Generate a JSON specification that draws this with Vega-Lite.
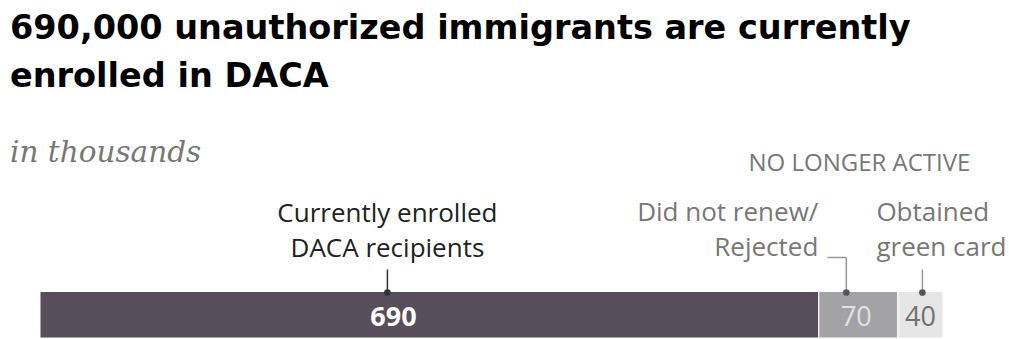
{
  "$schema": "https://vega.github.io/schema/vega-lite/v6.json",
  "width": 1009,
  "height": 339,
  "autosize": {"type": "fit", "contains": "padding"},
  "padding": {"top": 12, "left": 0, "right": 0, "bottom": 0},
  "background": "white",
  "config": {"view": {"stroke": null}, "font": "Open Sans"},
  "title": {
    "text": ["690,000 unauthorized immigrants are currently", "enrolled in DACA"],
    "subtitle": "in thousands",
    "anchor": "start",
    "dx": 10,
    "font": "DejaVu Sans",
    "fontSize": 33.5,
    "fontWeight": "bold",
    "color": "#000000",
    "lineHeight": 48,
    "subtitleFont": "DejaVu Serif",
    "subtitleFontStyle": "italic",
    "subtitleFontSize": 29.5,
    "subtitleColor": "#777777",
    "subtitlePadding": 44,
    "offset": -17
  },
  "data": {
    "values": [
      {"category": "Currently enrolled DACA recipients", "label": "Currently enrolled\nDACA recipients", "value": 690, "order": 1},
      {"category": "Did not renew/Rejected", "label": "Did not renew/\nRejected", "value": 70, "order": 2},
      {"category": "Obtained green card", "label": "Obtained\ngreen card", "value": 40, "order": 3}
    ]
  },
  "transform": [
    {"stack": "value", "groupby": [], "sort": [{"field": "order", "order": "ascending"}], "as": ["x0", "x1"]},
    {"calculate": "(datum.x0 + datum.x1) / 2", "as": "mid"}
  ],
  "encoding": {
    "x": {"field": "mid", "type": "quantitative", "scale": {"domain": [-35.44, 858.5], "nice": false, "zero": false}, "axis": null},
    "y": {"datum": 47, "type": "quantitative", "scale": {"domain": [0, 189], "nice": false, "zero": false}, "axis": null}
  },
  "layer": [
    {
      "mark": {"type": "bar", "stroke": "white", "strokeWidth": 1},
      "encoding": {
        "x": {"field": "x0", "type": "quantitative"},
        "x2": {"field": "x1"},
        "y": {"datum": 0, "type": "quantitative"},
        "y2": {"datum": 47},
        "color": {"field": "category", "type": "nominal", "legend": null,
          "scale": {"domain": ["Currently enrolled DACA recipients", "Did not renew/Rejected", "Obtained green card"], "range": ["#574d5b", "#a3a2a5", "#e6e6e6"]}}
      }
    },
    {
      "transform": [{"filter": "datum.order == 1"}],
      "layer": [
        {"mark": {"type": "text", "fontSize": 27, "fontWeight": "bold", "color": "white", "baseline": "alphabetic", "dx": -36, "dy": 35},
         "encoding": {"text": {"field": "value"}}},
        {"mark": {"type": "rule", "color": "#333333", "strokeWidth": 1.5, "xOffset": -42, "yOffset": 1, "y2Offset": -22},
         "encoding": {"y2": {"datum": 47}}},
        {"mark": {"type": "point", "filled": true, "size": 45, "opacity": 1, "color": "#333333", "xOffset": -42, "yOffset": 1},
         "encoding": {}},
        {"mark": {"type": "text", "fontSize": 26, "color": "#222222", "align": "center", "baseline": "alphabetic", "lineBreak": "\n", "lineHeight": 35, "dx": -42, "dy": -69},
         "encoding": {"text": {"field": "label"}}}
      ]
    },
    {
      "transform": [{"filter": "datum.order == 2"}],
      "layer": [
        {"mark": {"type": "text", "fontSize": 27, "color": "#e2e2e2", "baseline": "alphabetic", "dx": -2, "dy": 35},
         "encoding": {"text": {"field": "value"}}},
        {"mark": {"type": "rule", "color": "#999999", "strokeWidth": 1.5, "xOffset": -12, "yOffset": 1, "y2Offset": -34},
         "encoding": {"y2": {"datum": 47}}},
        {"mark": {"type": "rule", "color": "#999999", "strokeWidth": 1.5, "xOffset": -31, "x2Offset": -12, "yOffset": -34},
         "encoding": {"x2": {"field": "mid"}}},
        {"mark": {"type": "point", "filled": true, "size": 45, "opacity": 1, "color": "#555555", "xOffset": -12, "yOffset": 1},
         "encoding": {}},
        {"mark": {"type": "text", "fontSize": 26, "color": "#777777", "align": "right", "baseline": "alphabetic", "lineBreak": "\n", "lineHeight": 35, "dx": -40, "dy": -70},
         "encoding": {"text": {"field": "label"}}}
      ]
    },
    {
      "transform": [{"filter": "datum.order == 3"}],
      "layer": [
        {"mark": {"type": "text", "fontSize": 27, "color": "#707070", "baseline": "alphabetic", "dx": 0, "dy": 35},
         "encoding": {"text": {"field": "value"}}},
        {"mark": {"type": "rule", "color": "#999999", "strokeWidth": 1.5, "xOffset": 2, "yOffset": 1, "y2Offset": -22},
         "encoding": {"y2": {"datum": 47}}},
        {"mark": {"type": "point", "filled": true, "size": 45, "opacity": 1, "color": "#555555", "xOffset": 2, "yOffset": 1},
         "encoding": {}},
        {"mark": {"type": "text", "fontSize": 26, "color": "#777777", "align": "left", "baseline": "alphabetic", "lineBreak": "\n", "lineHeight": 35, "dx": -44, "dy": -70},
         "encoding": {"text": {"field": "label"}}},
        {"mark": {"type": "text", "fontSize": 24, "color": "#777777", "align": "right", "baseline": "alphabetic", "dx": 50, "dy": -120, "text": "NO LONGER ACTIVE"},
         "encoding": {}}
      ]
    }
  ]
}
